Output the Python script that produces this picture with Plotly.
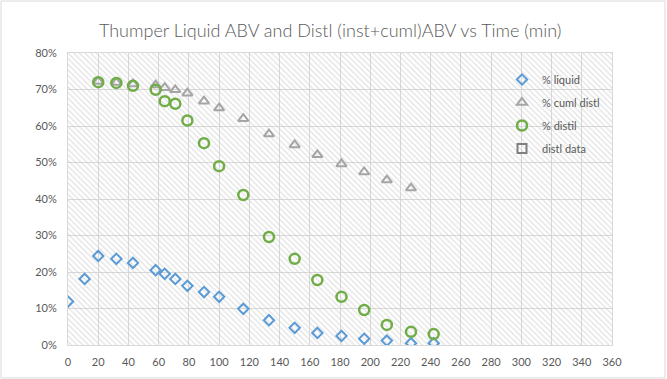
import plotly.graph_objects as go

# ---- data ----
time_liquid = [0, 11, 20, 32, 43, 58, 64, 71, 79, 90, 100, 116, 133, 150, 165, 181, 196, 211, 227, 242]
pct_liquid = [0.119, 0.181, 0.244, 0.236, 0.225, 0.205, 0.195, 0.181, 0.162, 0.145, 0.132, 0.099,
              0.068, 0.047, 0.033, 0.025, 0.017, 0.012, 0.005, 0.005]

time_cuml = [20, 32, 43, 58, 64, 71, 79, 90, 100, 116, 133, 150, 165, 181, 196, 211, 227]
pct_cuml = [0.722, 0.719, 0.715, 0.712, 0.705, 0.699, 0.690, 0.668, 0.649, 0.620, 0.578, 0.548,
            0.521, 0.496, 0.474, 0.452, 0.430]

time_distil = [20, 32, 43, 58, 64, 71, 79, 90, 100, 116, 133, 150, 165, 181, 196, 211, 227, 242]
pct_distil = [0.720, 0.718, 0.710, 0.699, 0.668, 0.661, 0.615, 0.553, 0.490, 0.411, 0.296, 0.236,
              0.178, 0.132, 0.096, 0.055, 0.036, 0.030]

time_distl_data = []
pct_distl_data = []

X_RANGE = [0, 360]
Y_RANGE = [0, 0.8]
X_TICKS = list(range(0, 361, 20))
Y_TICKS = [i / 10 for i in range(0, 9)]

TITLE = "Thumper Liquid ABV and Distl (inst+cuml)ABV vs Time (min)"

BLUE = "#5B9BD5"
GREY = "#A5A5A5"
GREEN = "#70AD47"
DARK = "#7F7F7F"
TXT = "#595959"
GRID = "#D9D9D9"
FONT = "Lato, 'Liberation Sans', sans-serif"

fig = go.Figure()

# hatched plot-area background
fig.add_trace(go.Scatter(
    x=[X_RANGE[0], X_RANGE[1], X_RANGE[1], X_RANGE[0], X_RANGE[0]],
    y=[Y_RANGE[0], Y_RANGE[0], Y_RANGE[1], Y_RANGE[1], Y_RANGE[0]],
    mode="none", fill="toself", fillcolor="rgba(0,0,0,0)",
    fillpattern=dict(shape="\\", fgcolor="#C4C4C4", bgcolor="rgba(0,0,0,0)", size=4, solidity=0.3),
    hoverinfo="skip", showlegend=False,
))

fig.add_trace(go.Scatter(
    x=time_liquid, y=pct_liquid, mode="markers", name="% liquid", legendgroup="a",
    marker=dict(symbol="diamond-open", size=8, color=BLUE, line=dict(width=2, color=BLUE)),
))
fig.add_trace(go.Scatter(
    x=time_cuml, y=pct_cuml, mode="markers", name="% cuml distl", legendgroup="b",
    marker=dict(symbol="triangle-up-open", size=9, color=GREY, line=dict(width=2, color=GREY)),
))
fig.add_trace(go.Scatter(
    x=time_distil, y=pct_distil, mode="markers", name="% distil", legendgroup="c",
    marker=dict(symbol="circle-open", size=10, color=GREEN, line=dict(width=2.5, color=GREEN)),
))
fig.add_trace(go.Scatter(
    x=time_distl_data if time_distl_data else [None], y=pct_distl_data if pct_distl_data else [None],
    mode="markers", name="distl data", legendgroup="d",
    marker=dict(symbol="square-open", size=9, color=DARK, line=dict(width=2, color=DARK)),
))

L, R, T, B = 68, 55, 53, 34
W, H = 667, 379
pw, ph = W - L - R, H - T - B

fig.update_layout(
    width=W, height=H,
    margin=dict(l=L, r=R, t=T, b=B, autoexpand=False),
    paper_bgcolor="white", plot_bgcolor="white",
    font=dict(family=FONT, color=TXT, size=11),
    title=dict(text=TITLE, x=0.495, xanchor="center", y=1 - 31 / H, yanchor="middle",
               font=dict(size=18, color=TXT, family=FONT, weight=300)),
    xaxis=dict(range=X_RANGE, tickvals=X_TICKS, showgrid=True, gridcolor=GRID, gridwidth=1,
               zeroline=False, showline=True, linecolor=GRID, mirror=True, ticks="",
               automargin=False, ticklabelstandoff=7, tickfont=dict(size=11, color=TXT)),
    yaxis=dict(range=Y_RANGE, tickvals=Y_TICKS, tickformat=".0%", showgrid=True, gridcolor=GRID,
               gridwidth=1, zeroline=False, showline=True, linecolor=GRID, mirror=True, ticks="",
               automargin=False, ticklabelstandoff=8, tickfont=dict(size=11, color=TXT)),
    legend=dict(x=(502 - L) / pw, y=1 - (65 - T) / ph, xanchor="left", yanchor="top",
                bgcolor="rgba(0,0,0,0)", font=dict(size=11, color=TXT),
                tracegroupgap=4, traceorder="grouped"),
    shapes=[dict(type="rect", xref="paper", yref="paper",
                 x0=-(L - 1) / pw, x1=1 + (R - 2) / pw,
                 y0=-(B - 1) / ph, y1=1 + (T - 1) / ph,
                 line=dict(color=GRID, width=1), layer="below")],
)

fig.write_html("out.html", config={"displayModeBar": False},
               post_script="document.body.style.margin='0';document.body.style.padding='0';")
